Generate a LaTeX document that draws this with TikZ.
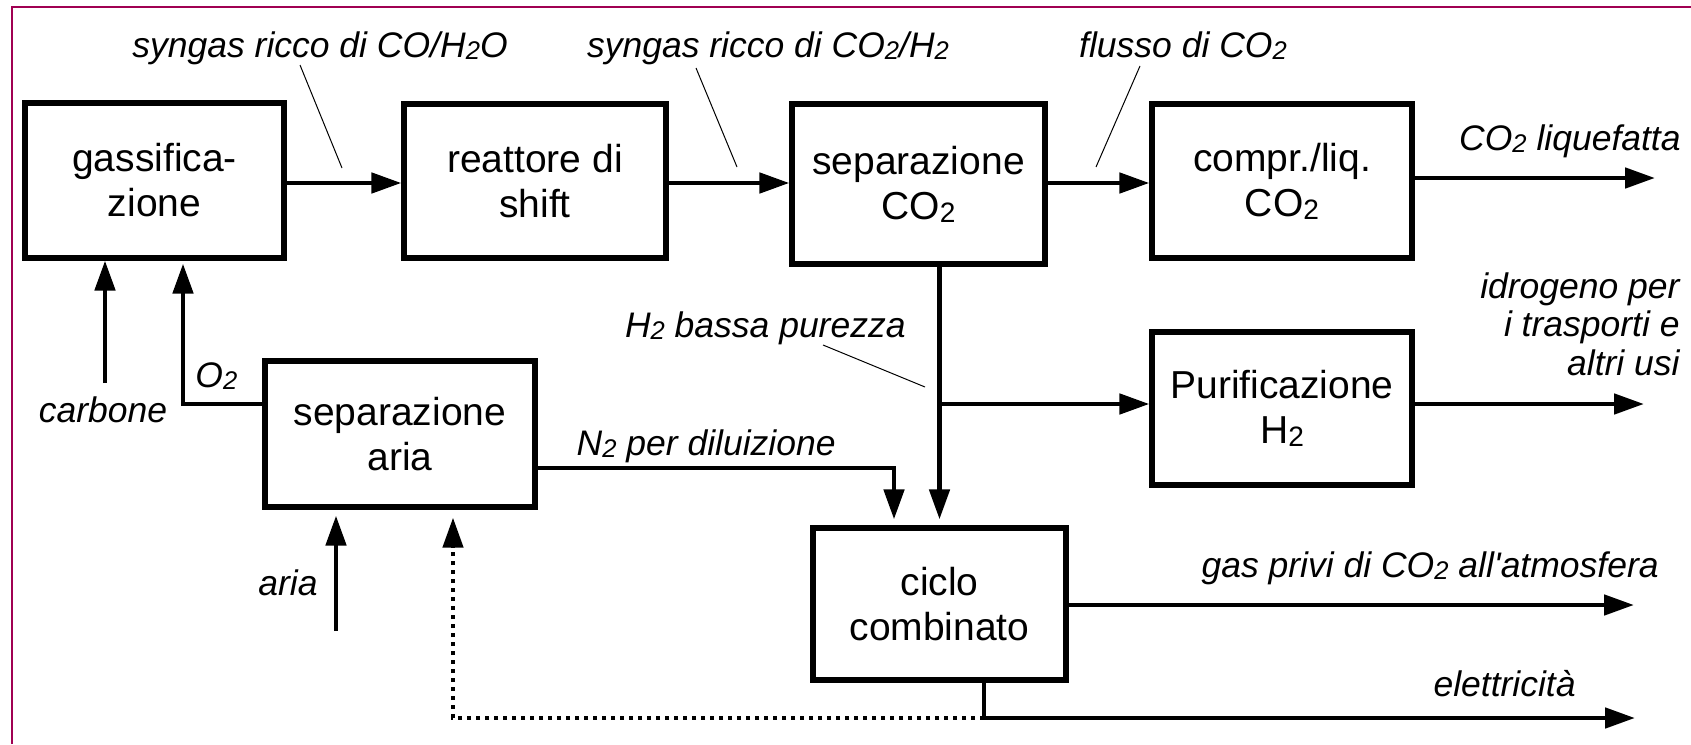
\documentclass[tikz,border=0pt]{standalone}
\usepackage{fontspec}
\setmainfont{Liberation Sans}
\usepackage{graphicx}
\usetikzlibrary{arrows.meta}
\definecolor{framec}{RGB}{160,0,82}
\newcommand\sbs[1]{\raisebox{-0.08em}{\scalebox{0.72}{#1}}}
\begin{document}
\begin{tikzpicture}[x=0.5pt,y=-0.5pt,
 box/.style={draw,line width=2.6pt,inner sep=0pt,align=center,font=\fontsize{19.5}{22.5}\selectfont},
 lbl/.style={inner sep=0pt,font=\itshape\fontsize{17.75}{19.25}\selectfont},
 arr/.style={line width=2.4pt,-{Triangle[length=15pt,width=10pt]}},
 flow/.style={line width=2.4pt},
 dotflow/.style={line width=2.2pt,dash pattern=on 2.2pt off 2.3pt,-{Triangle[length=15pt,width=10pt]}},
 leader/.style={line width=0.5pt}]
\useasboundingbox (0,0) rectangle (1691,744);
\draw[framec,line width=1.3pt] (12,744) -- (12,7) -- (1691,7);
% boxes
\node[box,minimum width=129.5pt,minimum height=77.5pt] (gas) at (154.5,180.5) {gassifica-\\zione};
\node[box,minimum width=131pt,minimum height=77pt] (shift) at (535,181) {reattore di\\shift};
\node[box,minimum width=126.5pt,minimum height=80pt] (sepco) at (918.5,184) {separazione\\CO\sbs{2}};
\node[box,minimum width=130pt,minimum height=77pt] (compr) at (1282,181) {compr./liq.\\CO\sbs{2}};
\node[box,minimum width=130pt,minimum height=76.5pt] (purif) at (1282,408.5) {Purificazione\\H\sbs{2}};
\node[box,minimum width=135pt,minimum height=73pt] (separia) at (400,434) {separazione\\aria};
\node[box,minimum width=126.5pt,minimum height=76pt] (ciclo) at (939.5,604) {ciclo\\combinato};
% coordinates
\coordinate (r1) at (0,183);
\coordinate (cout) at (1655,178);
\coordinate (carb) at (105,383);
\coordinate (o2) at (183,404);
\coordinate (n2) at (894,468);
\coordinate (br) at (939,404);
\coordinate (pout) at (1644,404);
\coordinate (ar) at (336,631);
\coordinate (d1) at (984,718);
\coordinate (d2) at (453,718);
\coordinate (elt) at (1635,718);
\coordinate (gp) at (1634,605);
% main flow
\draw[arr] (gas.east |- r1) -- (shift.west |- r1);
\draw[arr] (shift.east |- r1) -- (sepco.west |- r1);
\draw[arr] (sepco.east |- r1) -- (compr.west |- r1);
\draw[arr] (compr.east |- cout) -- (cout);
\draw[arr] (carb) -- (carb |- gas.south);
\draw[arr,shorten >=1.5pt] (separia.west |- o2) -- (o2) -- (o2 |- gas.south);
\draw[arr,shorten >=3pt] (separia.east |- n2) -- (n2) -- (n2 |- ciclo.north);
\draw[arr,shorten >=3pt] (ciclo.north |- sepco.south) -- (ciclo.north);
\draw[arr] (br) -- (br -| purif.west);
\draw[arr] (purif.east |- pout) -- (pout);
\draw[arr,shorten >=3pt] (ar) -- (ar |- separia.south);
\draw[arr] (ciclo.east |- gp) -- (gp);
\draw[arr] (ciclo.south -| d1) -- (d1) -- (elt);
\draw[dotflow,shorten >=4pt] (d1) -- (d2) -- (d2 |- separia.south);
% labels
\node[lbl,anchor=base] (l1) at (320,57) {syngas ricco di CO/H\sbs{2}O};
\node[lbl,anchor=base] (l2) at (768,57) {syngas ricco di CO\sbs{2}/H\sbs{2}};
\node[lbl,anchor=base] (l3) at (1183,57) {flusso di CO\sbs{2}};
\node[lbl,anchor=base east] (l4) at (1681,150) {CO\sbs{2} liquefatta};
\node[lbl,anchor=north east,align=right,font=\itshape\fontsize{17.75}{19.25}\selectfont] (l5) at (1680,272) {idrogeno per\\i trasporti e\\altri usi};
\node[lbl,anchor=base east] (l6) at (906,337) {H\sbs{2} bassa purezza};
\node[lbl,anchor=base east] (l7) at (836,455) {N\sbs{2} per diluizione};
\node[lbl,anchor=base] (l8) at (103,422) {carbone};
\node[lbl,anchor=base west] (l9) at (195,387) {O\sbs{2}};
\node[lbl,anchor=base east] (l10) at (318,595) {aria};
\node[lbl,anchor=base east] (l11) at (1659,577) {gas privi di CO\sbs{2} all\textquotesingle atmosfera};
\node[lbl,anchor=base east] (l12) at (1576,696) {elettricità};
% leaders
\coordinate (a1) at (300,65); \coordinate (b1) at (342,168);
\coordinate (a2) at (696,68); \coordinate (b2) at (737,167);
\coordinate (a3) at (1140,66); \coordinate (b3) at (1096,167);
\coordinate (a4) at (823,345); \coordinate (b4) at (925,387);
\draw[leader] (a1) -- (b1);
\draw[leader] (a2) -- (b2);
\draw[leader] (a3) -- (b3);
\draw[leader] (a4) -- (b4);
\end{tikzpicture}
\end{document}
